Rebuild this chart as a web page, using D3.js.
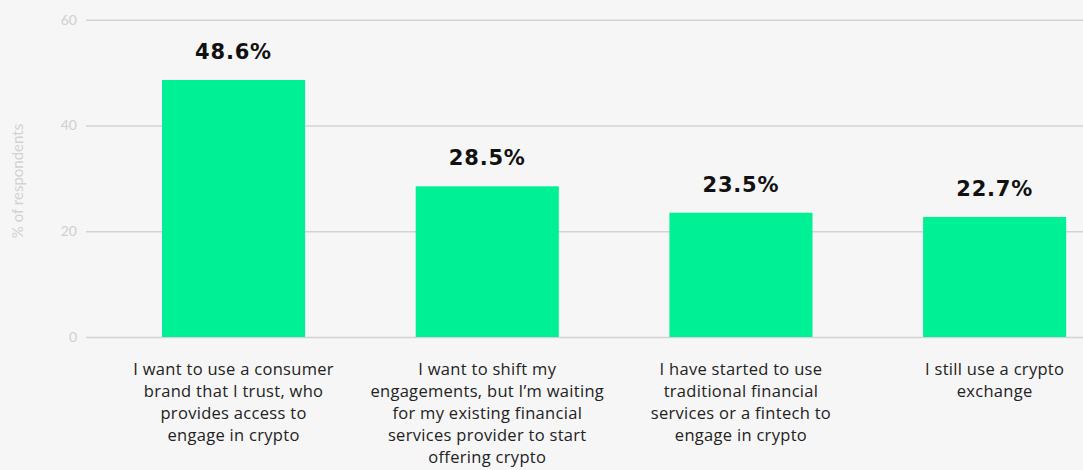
<!DOCTYPE html>
<html><head><meta charset="utf-8">
<script src="https://cdn.jsdelivr.net/npm/d3@7"></script>
<style>
html,body{margin:0;padding:0;background:#f6f6f6;}
svg{display:block;}
</style></head>
<body><svg id="chart" width="1083" height="470"></svg>
<script>
const categories = [
  "I want to use a consumer|brand that I trust, who|provides access to|engage in crypto",
  "I want to shift my|engagements, but I\u2019m waiting|for my existing financial|services provider to start|offering crypto",
  "I have started to use|traditional financial|services or a fintech to|engage in crypto",
  "I still use a crypto|exchange"
];
const values = [48.6, 28.5, 23.5, 22.7];
const yTicks = [0, 20, 40, 60];
const yTitle = "% of respondents";

const svg = d3.select("#chart");
const W = 1083, H = 470;
svg.append("rect").attr("width", W).attr("height", H).attr("fill", "#f6f6f6");

const y = d3.scaleLinear().domain([0, 60]).range([337, 19.7]);
const x = d3.scaleBand().domain(d3.range(categories.length))
  .range([106.7, 1121.5]).paddingInner(0.436).paddingOuter(0.218);

// grid + tick labels
const yAxis = d3.axisLeft(y).tickValues(yTicks).tickSize(-(W - 86)).tickPadding(9).tickFormat(d3.format("d"));
const gy = svg.append("g").attr("transform", "translate(86,0)").call(yAxis);
gy.select(".domain").remove();
gy.selectAll(".tick line").attr("stroke", "#d3d3d3").attr("stroke-width", 1.6);
gy.selectAll(".tick text").attr("fill", "#cfcfcf").attr("font-family", "Lato, 'Open Sans', sans-serif").attr("font-size", 14);

svg.append("text")
  .attr("transform", "translate(23,181) rotate(-90)")
  .attr("text-anchor", "middle")
  .attr("fill", "#d2d2d2")
  .attr("font-family", "Lato, 'Open Sans', sans-serif")
  .attr("font-size", 15)
  .text(yTitle);

// bars
svg.append("g").selectAll("rect").data(values).join("rect")
  .attr("x", (d, i) => x(i))
  .attr("width", x.bandwidth())
  .attr("y", d => y(d))
  .attr("height", d => y(0) - y(d))
  .attr("fill", "#00f096");

// value labels
svg.append("g").selectAll("text").data(values).join("text")
  .attr("x", (d, i) => x(i) + x.bandwidth() / 2)
  .attr("y", d => y(d) - 21)
  .attr("text-anchor", "middle")
  .attr("font-family", "'DejaVu Sans', sans-serif")
  .attr("font-weight", "bold")
  .attr("font-size", 21)
  .attr("letter-spacing", 0.8)
  .attr("fill", "#111")
  .text(d => d.toFixed(1) + "%");

// category labels
const cg = svg.append("g").selectAll("text").data(categories).join("text")
  .attr("text-anchor", "middle")
  .attr("font-family", "'Open Sans', sans-serif")
  .attr("font-size", 16.5)
  .attr("letter-spacing", 0.3)
  .attr("fill", "#222");
cg.each(function(d, i) {
  const t = d3.select(this);
  d.split("|").forEach((line, k) => {
    t.append("tspan")
      .attr("x", x(i) + x.bandwidth() / 2)
      .attr("y", 375 + k * 22)
      .text(line);
  });
});
</script>
</body></html>
